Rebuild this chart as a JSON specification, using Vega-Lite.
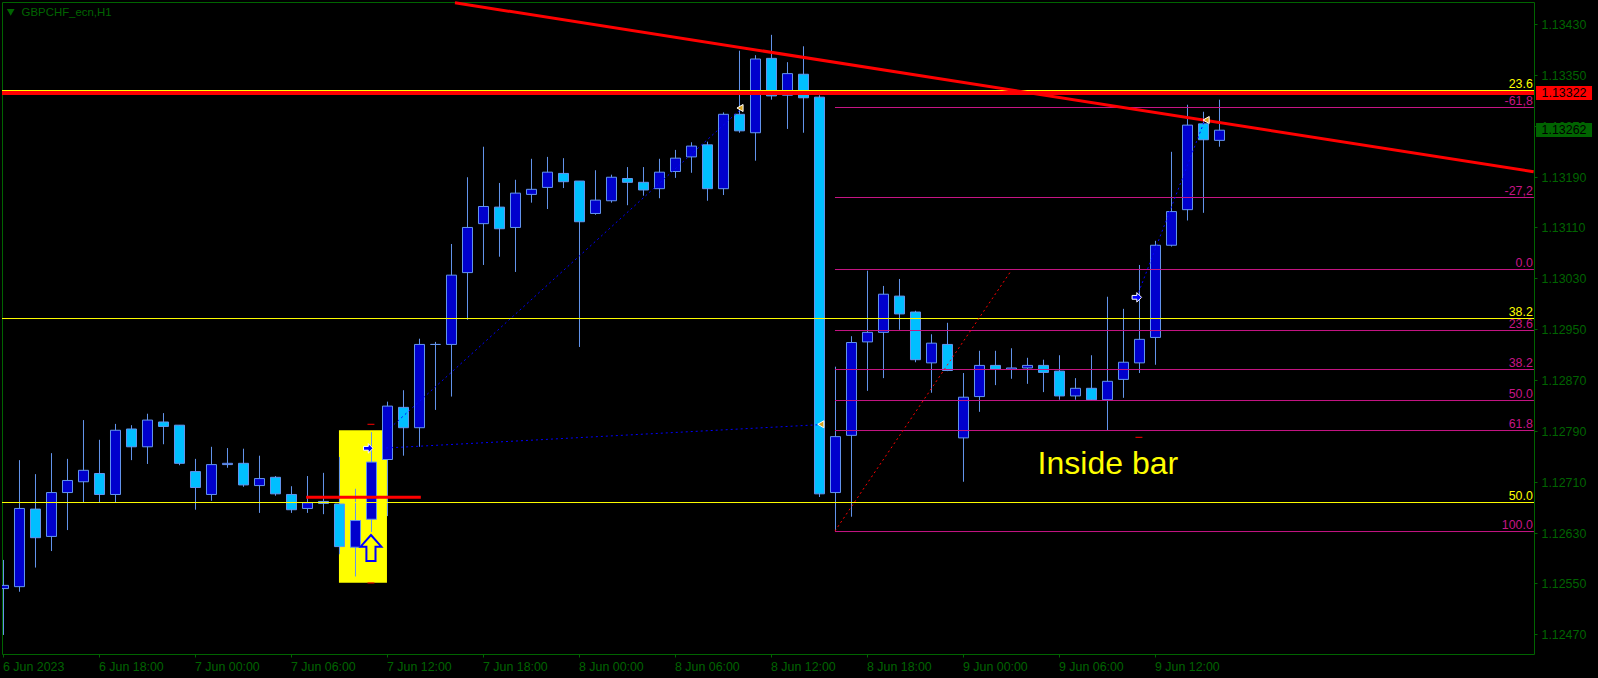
{"$schema":"https://vega.github.io/schema/vega-lite/v6.json","width":1532,"height":652,"autosize":{"type":"none"},"padding":{"left":2,"top":2,"right":64,"bottom":24},"background":"#000000","view":{"stroke":"#006400","strokeWidth":1,"fill":"#000000"},
"config":{"axis":{"grid":false,"domain":false}},
"datasets":{
"candles":[
{"t":"2023-06-06T12:00:00Z","o":1.12542,"h":1.12587,"l":1.12469,"c":1.12547},
{"t":"2023-06-06T13:00:00Z","o":1.12545,"h":1.12744,"l":1.12537,"c":1.12668},
{"t":"2023-06-06T14:00:00Z","o":1.12667,"h":1.12722,"l":1.12575,"c":1.12622},
{"t":"2023-06-06T15:00:00Z","o":1.12624,"h":1.12755,"l":1.12601,"c":1.12693},
{"t":"2023-06-06T16:00:00Z","o":1.12693,"h":1.12746,"l":1.12634,"c":1.12712},
{"t":"2023-06-06T17:00:00Z","o":1.12710,"h":1.12807,"l":1.12678,"c":1.12728},
{"t":"2023-06-06T18:00:00Z","o":1.12723,"h":1.12776,"l":1.12678,"c":1.12690},
{"t":"2023-06-06T19:00:00Z","o":1.12690,"h":1.12801,"l":1.12678,"c":1.12791},
{"t":"2023-06-06T20:00:00Z","o":1.12793,"h":1.12799,"l":1.12744,"c":1.12765},
{"t":"2023-06-06T21:00:00Z","o":1.12765,"h":1.12817,"l":1.12738,"c":1.12807},
{"t":"2023-06-06T22:00:00Z","o":1.12804,"h":1.12818,"l":1.12769,"c":1.12797},
{"t":"2023-06-06T23:00:00Z","o":1.12799,"h":1.12799,"l":1.12736,"c":1.12739},
{"t":"2023-06-07T00:00:00Z","o":1.12726,"h":1.12746,"l":1.12666,"c":1.12701},
{"t":"2023-06-07T01:00:00Z","o":1.12690,"h":1.12765,"l":1.12680,"c":1.12737},
{"t":"2023-06-07T02:00:00Z","o":1.12737,"h":1.12763,"l":1.12732,"c":1.12739},
{"t":"2023-06-07T03:00:00Z","o":1.12739,"h":1.12762,"l":1.12702,"c":1.12705},
{"t":"2023-06-07T04:00:00Z","o":1.12704,"h":1.12751,"l":1.12661,"c":1.12715},
{"t":"2023-06-07T05:00:00Z","o":1.12717,"h":1.12719,"l":1.12688,"c":1.12691},
{"t":"2023-06-07T06:00:00Z","o":1.12690,"h":1.12703,"l":1.12661,"c":1.12666},
{"t":"2023-06-07T07:00:00Z","o":1.12668,"h":1.12719,"l":1.12661,"c":1.12677},
{"t":"2023-06-07T08:00:00Z","o":1.12679,"h":1.12724,"l":1.12659,"c":1.12676},
{"t":"2023-06-07T09:00:00Z","o":1.12675,"h":1.12749,"l":1.12596,"c":1.12608},
{"t":"2023-06-07T10:00:00Z","o":1.12607,"h":1.12699,"l":1.12561,"c":1.12649},
{"t":"2023-06-07T11:00:00Z","o":1.12651,"h":1.12788,"l":1.12631,"c":1.12741},
{"t":"2023-06-07T12:00:00Z","o":1.12745,"h":1.12836,"l":1.12656,"c":1.12829},
{"t":"2023-06-07T13:00:00Z","o":1.12827,"h":1.12854,"l":1.12751,"c":1.12795},
{"t":"2023-06-07T14:00:00Z","o":1.12795,"h":1.12935,"l":1.12765,"c":1.12926},
{"t":"2023-06-07T15:00:00Z","o":1.12926,"h":1.12930,"l":1.12823,"c":1.12926},
{"t":"2023-06-07T16:00:00Z","o":1.12926,"h":1.13084,"l":1.12844,"c":1.13035},
{"t":"2023-06-07T17:00:00Z","o":1.13039,"h":1.13189,"l":1.12965,"c":1.13110},
{"t":"2023-06-07T18:00:00Z","o":1.13116,"h":1.13237,"l":1.13051,"c":1.13143},
{"t":"2023-06-07T19:00:00Z","o":1.13142,"h":1.13180,"l":1.13064,"c":1.13108},
{"t":"2023-06-07T20:00:00Z","o":1.13110,"h":1.13185,"l":1.13040,"c":1.13164},
{"t":"2023-06-07T21:00:00Z","o":1.13162,"h":1.13218,"l":1.13149,"c":1.13170},
{"t":"2023-06-07T22:00:00Z","o":1.13173,"h":1.13221,"l":1.13139,"c":1.13197},
{"t":"2023-06-07T23:00:00Z","o":1.13195,"h":1.13219,"l":1.13172,"c":1.13182},
{"t":"2023-06-08T00:00:00Z","o":1.13183,"h":1.13183,"l":1.12922,"c":1.13119},
{"t":"2023-06-08T01:00:00Z","o":1.13132,"h":1.13200,"l":1.13130,"c":1.13153},
{"t":"2023-06-08T02:00:00Z","o":1.13152,"h":1.13193,"l":1.13149,"c":1.13189},
{"t":"2023-06-08T03:00:00Z","o":1.13187,"h":1.13205,"l":1.13145,"c":1.13181},
{"t":"2023-06-08T04:00:00Z","o":1.13181,"h":1.13205,"l":1.13160,"c":1.13169},
{"t":"2023-06-08T05:00:00Z","o":1.13171,"h":1.13218,"l":1.13156,"c":1.13197},
{"t":"2023-06-08T06:00:00Z","o":1.13198,"h":1.13232,"l":1.13188,"c":1.13219},
{"t":"2023-06-08T07:00:00Z","o":1.13221,"h":1.13244,"l":1.13196,"c":1.13238},
{"t":"2023-06-08T08:00:00Z","o":1.13240,"h":1.13245,"l":1.13152,"c":1.13171},
{"t":"2023-06-08T09:00:00Z","o":1.13171,"h":1.13291,"l":1.13161,"c":1.13288},
{"t":"2023-06-08T10:00:00Z","o":1.13288,"h":1.13388,"l":1.13259,"c":1.13262},
{"t":"2023-06-08T11:00:00Z","o":1.13259,"h":1.13381,"l":1.13215,"c":1.13375},
{"t":"2023-06-08T12:00:00Z","o":1.13376,"h":1.13413,"l":1.13311,"c":1.13317},
{"t":"2023-06-08T13:00:00Z","o":1.13318,"h":1.13370,"l":1.13265,"c":1.13352},
{"t":"2023-06-08T14:00:00Z","o":1.13351,"h":1.13395,"l":1.13259,"c":1.13314},
{"t":"2023-06-08T15:00:00Z","o":1.13315,"h":1.13318,"l":1.12686,"c":1.12691},
{"t":"2023-06-08T16:00:00Z","o":1.12693,"h":1.12891,"l":1.12633,"c":1.12781},
{"t":"2023-06-08T17:00:00Z","o":1.12783,"h":1.12939,"l":1.12655,"c":1.12929},
{"t":"2023-06-08T18:00:00Z","o":1.12930,"h":1.13042,"l":1.12853,"c":1.12945},
{"t":"2023-06-08T19:00:00Z","o":1.12945,"h":1.13018,"l":1.12873,"c":1.13005},
{"t":"2023-06-08T20:00:00Z","o":1.13002,"h":1.13029,"l":1.12949,"c":1.12974},
{"t":"2023-06-08T21:00:00Z","o":1.12977,"h":1.12979,"l":1.12898,"c":1.12902},
{"t":"2023-06-08T22:00:00Z","o":1.12897,"h":1.12942,"l":1.12850,"c":1.12928},
{"t":"2023-06-08T23:00:00Z","o":1.12926,"h":1.12960,"l":1.12884,"c":1.12885},
{"t":"2023-06-09T00:00:00Z","o":1.12779,"h":1.12881,"l":1.12710,"c":1.12843},
{"t":"2023-06-09T01:00:00Z","o":1.12844,"h":1.12916,"l":1.12820,"c":1.12893},
{"t":"2023-06-09T02:00:00Z","o":1.12893,"h":1.12916,"l":1.12862,"c":1.12887},
{"t":"2023-06-09T03:00:00Z","o":1.12887,"h":1.12920,"l":1.12872,"c":1.12889},
{"t":"2023-06-09T04:00:00Z","o":1.12889,"h":1.12905,"l":1.12864,"c":1.12893},
{"t":"2023-06-09T05:00:00Z","o":1.12893,"h":1.12902,"l":1.12851,"c":1.12882},
{"t":"2023-06-09T06:00:00Z","o":1.12884,"h":1.12909,"l":1.12839,"c":1.12845},
{"t":"2023-06-09T07:00:00Z","o":1.12845,"h":1.12873,"l":1.12839,"c":1.12857},
{"t":"2023-06-09T08:00:00Z","o":1.12857,"h":1.12909,"l":1.12839,"c":1.12839},
{"t":"2023-06-09T09:00:00Z","o":1.12839,"h":1.13001,"l":1.12791,"c":1.12868},
{"t":"2023-06-09T10:00:00Z","o":1.12871,"h":1.12982,"l":1.12842,"c":1.12898},
{"t":"2023-06-09T11:00:00Z","o":1.12897,"h":1.13051,"l":1.12881,"c":1.12934},
{"t":"2023-06-09T12:00:00Z","o":1.12937,"h":1.13089,"l":1.12894,"c":1.13082},
{"t":"2023-06-09T13:00:00Z","o":1.13082,"h":1.13229,"l":1.13080,"c":1.13135},
{"t":"2023-06-09T14:00:00Z","o":1.13138,"h":1.13303,"l":1.13121,"c":1.13271},
{"t":"2023-06-09T15:00:00Z","o":1.13273,"h":1.13292,"l":1.13133,"c":1.13248},
{"t":"2023-06-09T16:00:00Z","o":1.13247,"h":1.13311,"l":1.13237,"c":1.13263}
],
"zone":[{"start":"2023-06-07T08:58:00Z","end":"2023-06-07T11:58:00Z","top":1.12791,"bottom":1.12551}],
"yellowFib":[
{"level":"23.6","price":1.1332544,"labelAt":"2023-06-10T11:35:00Z"},
{"level":"38.2","price":1.1296677,"labelAt":"2023-06-10T11:35:00Z"},
{"level":"50.0","price":1.1267732,"labelAt":"2023-06-10T11:35:00Z"}],
"pinkFib":[
{"level":"-61,8","price":1.1329869,"start":"2023-06-08T15:58:00Z","end":"2023-06-10T11:39:00Z","labelAt":"2023-06-10T11:35:00Z"},
{"level":"-27,2","price":1.1315712,"start":"2023-06-08T15:58:00Z","end":"2023-06-10T11:39:00Z","labelAt":"2023-06-10T11:35:00Z"},
{"level":"0.0","price":1.1304385,"start":"2023-06-08T15:58:00Z","end":"2023-06-10T11:39:00Z","labelAt":"2023-06-10T11:35:00Z"},
{"level":"23.6","price":1.1294789,"start":"2023-06-08T15:58:00Z","end":"2023-06-10T11:39:00Z","labelAt":"2023-06-10T11:35:00Z"},
{"level":"38.2","price":1.1288654,"start":"2023-06-08T15:58:00Z","end":"2023-06-10T11:39:00Z","labelAt":"2023-06-10T11:35:00Z"},
{"level":"50.0","price":1.1283778,"start":"2023-06-08T15:58:00Z","end":"2023-06-10T11:39:00Z","labelAt":"2023-06-10T11:35:00Z"},
{"level":"61.8","price":1.1279058,"start":"2023-06-08T15:58:00Z","end":"2023-06-10T11:39:00Z","labelAt":"2023-06-10T11:35:00Z"},
{"level":"100.0","price":1.126317,"start":"2023-06-08T15:58:00Z","end":"2023-06-10T11:39:00Z","labelAt":"2023-06-10T11:35:00Z"}],
"resistance":[{"price":1.133215}],
"support":[{"start":"2023-06-07T06:55:00Z","end":"2023-06-07T14:05:00Z","price":1.126855}],
"trend":[{"t":"2023-06-07T16:13:00Z","price":1.134634},{"t":"2023-06-10T11:38:00Z","price":1.131977}],
"fibTrend":[{"t":"2023-06-08T15:58:00Z","price":1.126325},{"t":"2023-06-09T02:58:00Z","price":1.130415}],
"zigzag":[
{"id":"a","t":"2023-06-07T11:55:00Z","price":1.127631},{"id":"a","t":"2023-06-08T15:02:00Z","price":1.127998},
{"id":"b","t":"2023-06-07T12:10:00Z","price":1.127946},{"id":"b","t":"2023-06-08T10:10:00Z","price":1.132979},
{"id":"c","t":"2023-06-09T10:50:00Z","price":1.130006},{"id":"c","t":"2023-06-09T15:05:00Z","price":1.13279}],
"dashes":[
{"start":"2023-06-07T10:45:00Z","end":"2023-06-07T11:11:00Z","price":1.128004},
{"start":"2023-06-07T10:45:00Z","end":"2023-06-07T11:11:00Z","price":1.125508},
{"start":"2023-06-09T10:45:00Z","end":"2023-06-09T11:11:00Z","price":1.127799}],
"upArrow":[{"t":"2023-06-07T10:58:00Z","price":1.126058}],
"blueArrows":[{"t":"2023-06-07T10:48:00Z","price":1.127626},{"t":"2023-06-09T10:50:00Z","price":1.130001}],
"orangeMarks":[{"t":"2023-06-08T10:02:00Z","price":1.132979},{"t":"2023-06-08T15:05:00Z","price":1.128004},{"t":"2023-06-09T15:10:00Z","price":1.13279}],
"note":[{"t":"2023-06-09T04:38:00Z","price":1.127222,"text":"Inside bar"}],
"symbolTitle":[{"t":"2023-06-06T13:08:00Z","price":1.134474,"text":"GBPCHF_ecn,H1"}],
"titleMark":[{"t":"2023-06-06T12:27:00Z","price":1.134485}],
"tags":[
{"kind":"line","start":"2023-06-10T11:47:00Z","end":"2023-06-10T15:17:00Z","top":1.133325,"bottom":1.133105,"labelAt":"2023-06-10T12:08:00Z","price":1.133215,"text":"1.13322"},
{"kind":"last","start":"2023-06-10T11:47:00Z","end":"2023-06-10T15:17:00Z","top":1.132743,"bottom":1.132523,"labelAt":"2023-06-10T12:08:00Z","price":1.132633,"text":"1.13262"}]
},
"layer":[
{"data":{"name":"zone"},"mark":{"type":"rect","color":"#FFFF00"},"encoding":{
"x":{"field":"start","type":"temporal","title":null,"scale":{"type":"utc","domain":["2023-06-06T11:54:25Z","2023-06-10T11:39:25Z"],"nice":false,"padding":0},
"axis":{"title":null,"grid":false,"domain":false,"values":[1686052800000,1686074400000,1686096000000,1686117600000,1686139200000,1686160800000,1686182400000,1686204000000,1686225600000,1686247200000,1686268800000,1686290400000,1686312000000],"labelExpr":"utcFormat(datum.value,'%-d %H')=='6 12' ? '6 Jun 2023' : utcFormat(datum.value,'%-d %b %H:%M')","tickColor":"#006400","tickSize":3,"labelColor":"#006400","labelFont":"Liberation Sans","labelFontSize":12.4,"labelAlign":"left","labelBaseline":"top","labelPadding":3,"labelOffset":-1,"labelOverlap":false,"labelFlush":false}},
"x2":{"field":"end"},
"y":{"field":"top","type":"quantitative","title":null,"scale":{"domain":[1.12439057,1.13464657],"nice":false,"zero":false},
"axis":{"title":null,"grid":false,"domain":false,"orient":"right","values":[1.1247,1.1255,1.1263,1.1271,1.1279,1.1287,1.1295,1.1303,1.1311,1.1319,1.1327,1.1335,1.1343],"format":".5f","tickColor":"#006400","tickSize":3,"labelColor":"#006400","labelFont":"Liberation Sans","labelFontSize":12.4,"labelPadding":4,"labelOffset":0.5,"labelOverlap":false,"labelFlush":false}},
"y2":{"field":"bottom"}}},
{"data":{"name":"candles"},"mark":{"type":"rule","color":"#6495ED","strokeWidth":1,"clip":true},"encoding":{"x":{"field":"t","type":"temporal","title":null},"y":{"field":"l","type":"quantitative","title":null},"y2":{"field":"h"}}},
{"data":{"name":"candles"},"mark":{"type":"bar","size":10,"stroke":"#6495ED","strokeWidth":1,"clip":true},"encoding":{"x":{"field":"t","type":"temporal","title":null},"y":{"field":"o","type":"quantitative","title":null},"y2":{"field":"c"},"color":{"condition":{"test":"datum.c>datum.o","value":"#0000CD"},"value":"#00BFFF"}}},
{"data":{"name":"pinkFib"},"mark":{"type":"rule","color":"#C71585","strokeWidth":1},"encoding":{"x":{"field":"start","type":"temporal","title":null},"x2":{"field":"end"},"y":{"field":"price","type":"quantitative","title":null}}},
{"data":{"name":"pinkFib"},"mark":{"type":"text","color":"#C71585","font":"Liberation Sans","fontSize":12.4,"align":"right","baseline":"alphabetic","dy":-3},"encoding":{"x":{"field":"labelAt","type":"temporal","title":null},"y":{"field":"price","type":"quantitative","title":null},"text":{"field":"level"}}},
{"data":{"name":"resistance"},"mark":{"type":"rule","color":"#FF0000","strokeWidth":4},"encoding":{"y":{"field":"price","type":"quantitative","title":null}}},
{"data":{"name":"yellowFib"},"mark":{"type":"rule","color":"#FFFF00","strokeWidth":1},"encoding":{"y":{"field":"price","type":"quantitative","title":null}}},
{"data":{"name":"yellowFib"},"mark":{"type":"text","color":"#FFFF00","font":"Liberation Sans","fontSize":12.4,"align":"right","baseline":"alphabetic","dy":-3},"encoding":{"x":{"field":"labelAt","type":"temporal","title":null},"y":{"field":"price","type":"quantitative","title":null},"text":{"field":"level"}}},
{"data":{"name":"fibTrend"},"mark":{"type":"line","color":"#FF0000","strokeWidth":1,"strokeDash":[2,3]},"encoding":{"x":{"field":"t","type":"temporal","title":null},"y":{"field":"price","type":"quantitative","title":null}}},
{"data":{"name":"zigzag"},"mark":{"type":"line","color":"#0000FF","strokeWidth":1,"strokeDash":[2,3]},"encoding":{"x":{"field":"t","type":"temporal","title":null},"y":{"field":"price","type":"quantitative","title":null},"detail":{"field":"id"}}},
{"data":{"name":"trend"},"mark":{"type":"line","color":"#FF0000","strokeWidth":3},"encoding":{"x":{"field":"t","type":"temporal","title":null},"y":{"field":"price","type":"quantitative","title":null}}},
{"data":{"name":"support"},"mark":{"type":"rule","color":"#FF0000","strokeWidth":3},"encoding":{"x":{"field":"start","type":"temporal","title":null},"x2":{"field":"end"},"y":{"field":"price","type":"quantitative","title":null}}},
{"data":{"name":"dashes"},"mark":{"type":"rule","color":"#FF0000","strokeWidth":1},"encoding":{"x":{"field":"start","type":"temporal","title":null},"x2":{"field":"end"},"y":{"field":"price","type":"quantitative","title":null}}},
{"data":{"name":"upArrow"},"mark":{"type":"point","shape":"M0,-1L0.8,-0.1L0.35,-0.1L0.35,1L-0.35,1L-0.35,-0.1L-0.8,-0.1Z","size":676,"filled":true,"fill":"#FFFF00","stroke":"#0000FF","strokeWidth":2,"opacity":1},"encoding":{"x":{"field":"t","type":"temporal","title":null},"y":{"field":"price","type":"quantitative","title":null}}},
{"data":{"name":"blueArrows"},"mark":{"type":"point","shape":"M1,0L0,-1L0,-0.4L-1,-0.4L-1,0.4L0,0.4L0,1Z","size":90,"filled":true,"fill":"#0000FF","stroke":"#FFFFFF","strokeWidth":1,"opacity":1},"encoding":{"x":{"field":"t","type":"temporal","title":null},"y":{"field":"price","type":"quantitative","title":null}}},
{"data":{"name":"orangeMarks"},"mark":{"type":"point","shape":"triangle-left","size":50,"filled":true,"fill":"#DAA520","stroke":"#FFFFFF","strokeWidth":1,"opacity":1},"encoding":{"x":{"field":"t","type":"temporal","title":null},"y":{"field":"price","type":"quantitative","title":null}}},
{"data":{"name":"note"},"mark":{"type":"text","color":"#FFFF00","font":"Liberation Sans","fontSize":32,"align":"left","baseline":"alphabetic"},"encoding":{"x":{"field":"t","type":"temporal","title":null},"y":{"field":"price","type":"quantitative","title":null},"text":{"field":"text"}}},
{"data":{"name":"titleMark"},"mark":{"type":"point","shape":"triangle-down","size":60,"filled":true,"fill":"#006400","opacity":1},"encoding":{"x":{"field":"t","type":"temporal","title":null},"y":{"field":"price","type":"quantitative","title":null}}},
{"data":{"name":"symbolTitle"},"mark":{"type":"text","color":"#006400","font":"Liberation Sans","fontSize":11.4,"align":"left","baseline":"middle"},"encoding":{"x":{"field":"t","type":"temporal","title":null},"y":{"field":"price","type":"quantitative","title":null},"text":{"field":"text"}}},
{"data":{"name":"tags"},"mark":{"type":"rect"},"encoding":{"x":{"field":"start","type":"temporal","title":null},"x2":{"field":"end"},"y":{"field":"top","type":"quantitative","title":null},"y2":{"field":"bottom"},"color":{"field":"kind","type":"nominal","legend":null,"scale":{"domain":["line","last"],"range":["#FF0000","#006400"]}}}},
{"data":{"name":"tags"},"mark":{"type":"text","color":"#000000","font":"Liberation Sans","fontSize":12.4,"align":"left","baseline":"middle"},"encoding":{"x":{"field":"labelAt","type":"temporal","title":null},"y":{"field":"price","type":"quantitative","title":null},"text":{"field":"text"}}}
]}
